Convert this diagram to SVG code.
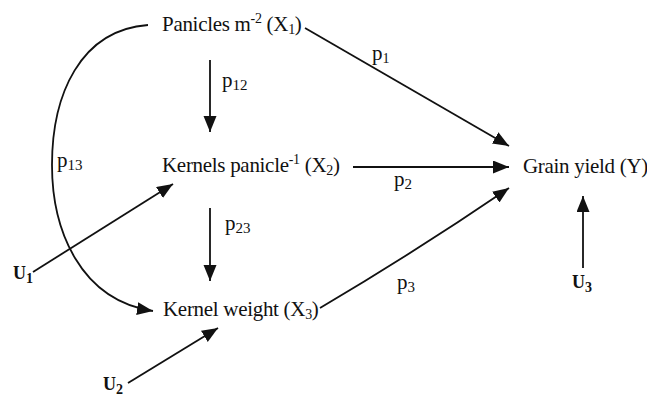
<svg xmlns="http://www.w3.org/2000/svg" width="647" height="398" viewBox="0 0 647 398">
<style>
.lbl{font-family:"Liberation Serif","Times New Roman",serif;font-size:21px;fill:#111}
.n{letter-spacing:-0.3px}
.u{font-family:"Liberation Serif","Times New Roman",serif;font-size:18px;font-weight:bold;fill:#111}
.c{fill:none;stroke:#111;stroke-width:1.8}
</style>
<defs>
<marker id="ah" markerUnits="userSpaceOnUse" markerWidth="17" markerHeight="14" refX="16" refY="6.5" orient="auto">
<path d="M0,0 L16,6.5 L0,13 z" fill="#111"/>
</marker>
</defs>
<rect width="647" height="398" fill="#fff"/>
<g id="connectors">
<path class="c" d="M305,28 L509,146" marker-end="url(#ah)"/>
<path class="c" d="M353,167 L509,167" marker-end="url(#ah)"/>
<path class="c" d="M320,308 Q415,252 509,188" marker-end="url(#ah)"/>
<path class="c" d="M210,60 L210,132" marker-end="url(#ah)"/>
<path class="c" d="M210,208 L210,281" marker-end="url(#ah)"/>
<path class="c" d="M33,272 L173,184" marker-end="url(#ah)"/>
<path class="c" d="M128,383 L218,328" marker-end="url(#ah)"/>
<path class="c" d="M583,268 L583,196" marker-end="url(#ah)"/>
<path class="c" d="M148,25 C80,30 52,95 52,165 C52,230 80,300 153,311" marker-end="url(#ah)"/>
<text class="lbl" x="372" y="60">p<tspan font-size="14" dy="3">1</tspan></text>
<text class="lbl" x="394" y="186">p<tspan font-size="15" dy="3">2</tspan></text>
<text class="lbl" x="397" y="289">p<tspan font-size="15" dy="3">3</tspan></text>
<text class="lbl" x="222" y="87">p<tspan font-size="15" dy="3">12</tspan></text>
<text class="lbl" x="225" y="230">p<tspan font-size="15" dy="3">23</tspan></text>
<text class="lbl" x="57" y="167">p<tspan font-size="15" dy="3">13</tspan></text>
</g>
<g id="x1"><text class="lbl n" x="162" y="31">Panicles m<tspan font-size="14" dy="-8">-2</tspan><tspan dy="8"> (X</tspan><tspan font-size="14" dy="3">1</tspan><tspan dy="-3">)</tspan></text></g>
<g id="x2"><text class="lbl n" x="162" y="172">Kernels panicle<tspan font-size="14" dy="-8">-1</tspan><tspan dy="8"> (X</tspan><tspan font-size="14" dy="3">2</tspan><tspan dy="-3">)</tspan></text></g>
<g id="x3"><text class="lbl n" x="163" y="316">Kernel weight (X<tspan font-size="14" dy="3">3</tspan><tspan dy="-3">)</tspan></text></g>
<g id="y"><text class="lbl n" x="523" y="173">Grain yield (Y)</text></g>
<g id="u1"><text class="u" x="13" y="279">U<tspan font-size="14" dy="4">1</tspan></text></g>
<g id="u2"><text class="u" x="103" y="390">U<tspan font-size="14" dy="4">2</tspan></text></g>
<g id="u3"><text class="u" x="572" y="288">U<tspan font-size="14" dy="4">3</tspan></text></g>
</svg>
